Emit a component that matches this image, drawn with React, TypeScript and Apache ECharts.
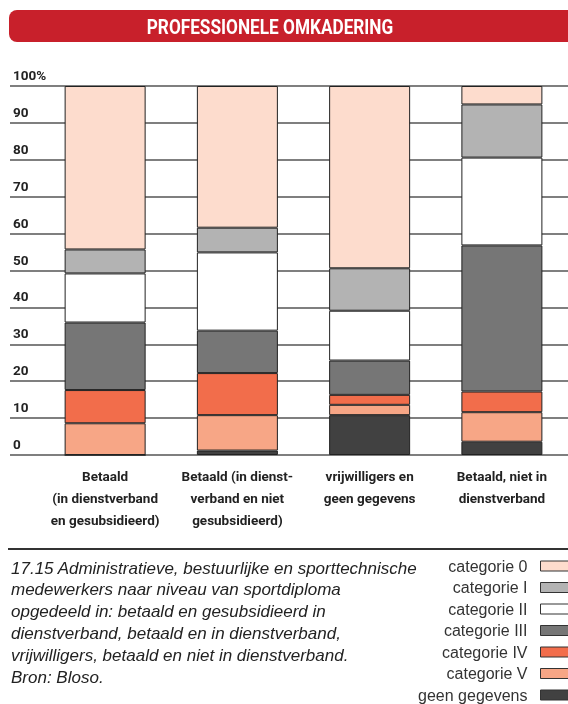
import React, { useEffect, useRef } from "react";
import * as echarts from "echarts";

const categories = [
  "Betaald\n(in dienstverband\nen gesubsidieerd)",
  "Betaald (in dienst-\nverband en niet\ngesubsidieerd)",
  "vrijwilligers en\ngeen gegevens",
  "Betaald, niet in\ndienstverband",
];
const yTicks = [0, 10, 20, 30, 40, 50, 60, 70, 80, 90, 100];

const geenGegevens = [0, 1.2, 10.8, 3.6];
const categorieV = [8.6, 9.6, 2.8, 8.0];
const categorieIV = [9.0, 11.4, 2.7, 5.6];
const categorieIII = [18.3, 11.5, 9.3, 39.6];
const categorieII = [13.3, 21.2, 13.5, 23.8];
const categorieI = [6.5, 6.7, 11.5, 14.4];
const categorie0 = [44.3, 38.4, 49.4, 5.0];

const legendOrder = [
  "categorie 0",
  "categorie I",
  "categorie II",
  "categorie III",
  "categorie IV",
  "categorie V",
  "geen gegevens",
];

const title = "PROFESSIONELE OMKADERING";
const captionLines = [
  "17.15 Administratieve, bestuurlijke en sporttechnische",
  "medewerkers naar niveau van sportdiploma",
  "opgedeeld in: betaald en gesubsidieerd in",
  "dienstverband, betaald en in dienstverband,",
  "vrijwilligers, betaald en niet in dienstverband.",
  "Bron: Bloso.",
];

const BOLD = "Roboto, 'Liberation Sans', sans-serif";
const SANS = "'Liberation Sans', Arial, sans-serif";

export default function App() {
  const ref = useRef<HTMLDivElement>(null);
  useEffect(() => {
    if (!ref.current) return;
    const chart = echarts.init(ref.current, null, { renderer: "svg" });
    const stack = [
      { name: "geen gegevens", data: geenGegevens, color: "#414141" },
      { name: "categorie V", data: categorieV, color: "#f7a686" },
      { name: "categorie IV", data: categorieIV, color: "#f26d4b" },
      { name: "categorie III", data: categorieIII, color: "#767676" },
      { name: "categorie II", data: categorieII, color: "#ffffff" },
      { name: "categorie I", data: categorieI, color: "#b3b3b3" },
      { name: "categorie 0", data: categorie0, color: "#fddccd" },
    ];
    chart.setOption({
      animation: false,
      grid: { left: 39, right: -11, top: 86, bottom: 249, containLabel: false },
      xAxis: {
        type: "category",
        data: categories,
        axisLine: { show: false },
        axisTick: { show: false },
        axisLabel: {
          interval: 0,
          margin: 10,
          fontFamily: BOLD,
          fontWeight: "bold",
          fontSize: 13.5,
          color: "#222",
          lineHeight: 22,
          verticalAlign: "top",
        },
      },
      yAxis: {
        type: "value",
        min: yTicks[0],
        max: yTicks[yTicks.length - 1],
        interval: 10,
        axisLine: { show: false },
        axisTick: { show: true, length: 29, lineStyle: { color: "#555", width: 1.5 } },
        splitLine: { show: true, lineStyle: { color: "#555", width: 1.5 } },
        axisLabel: {
          margin: 26,
          align: "left",
          verticalAlign: "bottom",
          padding: [0, 0, 4, 0],
          fontFamily: BOLD,
          fontWeight: "bold",
          fontSize: 13.5,
          color: "#222",
          formatter: (v: number) => (v === 100 ? "100%" : String(v)),
        },
      },
      legend: {
        orient: "vertical",
        right: -3,
        top: 557,
        height: 180,
        padding: 0,
        align: "right",
        icon: "rect",
        itemWidth: 30,
        itemHeight: 10,
        itemGap: 3.5,
        selectedMode: false,
        data: legendOrder,
        itemStyle: { borderColor: "#333", borderWidth: 1 },
        textStyle: {
          fontFamily: SANS,
          fontSize: 16,
          color: "#333",
          lineHeight: 18,
          padding: [0, 8, 0, 0],
        },
      },
      series: stack.map((s) => ({
        type: "bar",
        name: s.name,
        stack: "total",
        data: s.data,
        barWidth: 81,
        itemStyle: { color: s.color, borderColor: "#222", borderWidth: 1 },
      })),
      graphic: [
        {
          type: "rect",
          shape: { x: 9, y: 10, width: 580, height: 32, r: [8, 0, 0, 8] },
          style: { fill: "#c8202b" },
        },
        {
          type: "text",
          x: 270,
          y: 27,
          scaleX: 0.82,
          style: {
            text: title,
            fill: "#fff",
            font: `bold 21px ${BOLD}`,
            align: "center",
            verticalAlign: "middle",
          },
        },
        {
          type: "line",
          shape: { x1: 8, y1: 549, x2: 568, y2: 549 },
          style: { stroke: "#333", lineWidth: 2 },
        },
        ...captionLines.map((t, i) => ({
          type: "text",
          x: 11,
          y: 568 + i * 21.8,
          style: {
            text: t,
            fill: "#222",
            font: `italic 17px ${SANS}`,
            verticalAlign: "middle",
          },
        })),
      ],
    });
    return () => chart.dispose();
  }, []);
  return (
    <div
      ref={ref}
      style={{ position: "fixed", left: 0, top: 0, width: 568, height: 704 }}
    />
  );
}
